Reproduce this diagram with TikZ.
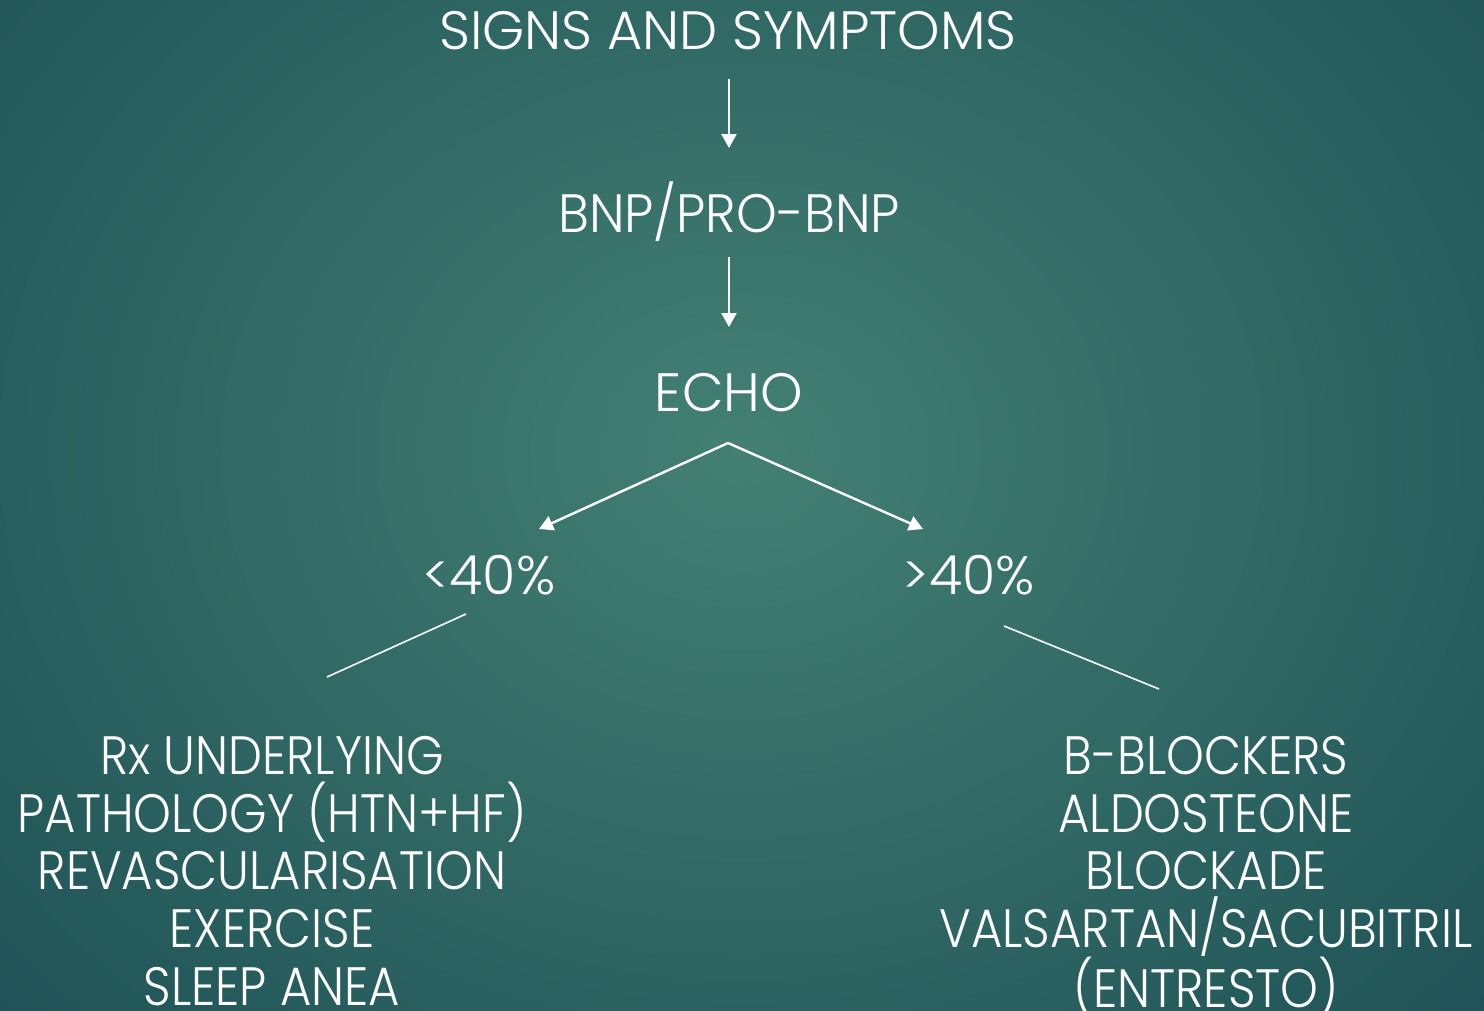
\documentclass[tikz,border=0pt]{standalone}
\usepackage{fontspec}
\setmainfont{Poppins}[UprightFont=* Light]
\newfontfamily\narrowfont{Poppins}[UprightFont=* Light,FakeStretch=0.89]
\newfontfamily\slimfont{Poppins}[UprightFont=* Light,FakeStretch=0.96]
\usetikzlibrary{arrows.meta}
\definecolor{bgin}{HTML}{438073}
\definecolor{bgout}{HTML}{1E5156}
\begin{document}
\begin{tikzpicture}[x=1pt,y=-1pt,
  lbl/.style={text=white,font=\fontsize{54}{57.7}\selectfont,inner sep=0pt,align=center},
  arr/.style={draw=white,line width=2.4pt,-{Triangle[length=14pt,width=15pt]}},
  plain/.style={draw=white,line width=1.6pt}]
\useasboundingbox (0,0) rectangle (1484,1010);
\shade[inner color=bgin,outer color=bgout] (-300,-420) rectangle (1784,1320);
\node[lbl] (sym) at (728,31) {SIGNS AND SYMPTOMS};
\node[lbl] (bnp) at (729,212) {\slimfont BNP/PRO-BNP};
\node[lbl] (echo) at (729,393) {ECHO};
\node[lbl] (lo) at (489,575) {<40\%};
\node[lbl] (hi) at (969,575) {>40\%};
\node[lbl,anchor=north,font=\narrowfont\fontsize{54}{57.7}\selectfont] (lrx) at (272,736) {Rx UNDERLYING\\PATHOLOGY (HTN+HF)\\REVASCULARISATION\\EXERCISE\\SLEEP ANEA};
\node[lbl,anchor=north,font=\narrowfont\fontsize{54}{57.7}\selectfont] (rrx) at (1206,736) {B-BLOCKERS\\ALDOSTEONE\\BLOCKADE\\VALSARTAN/SACUBITRIL\\(ENTRESTO)};
\coordinate (a1s) at (729,79);
\coordinate (a1e) at (729,148);
\coordinate (a2s) at (729,257);
\coordinate (a2e) at (729,327);
\coordinate (fork) at (728,443);
\coordinate (lot) at (539,529);
\coordinate (hit) at (923,529);
\coordinate (l1) at (466,614);
\coordinate (l2) at (327,677);
\coordinate (r1) at (1004,626);
\coordinate (r2) at (1159,689);
\draw[arr] (a1s) -- (a1e);
\draw[arr] (a2s) -- (a2e);
\draw[arr] (fork) -- (lot);
\draw[arr] (fork) -- (hit);
\draw[plain] (l1) -- (l2);
\draw[plain] (r1) -- (r2);
\end{tikzpicture}
\end{document}
